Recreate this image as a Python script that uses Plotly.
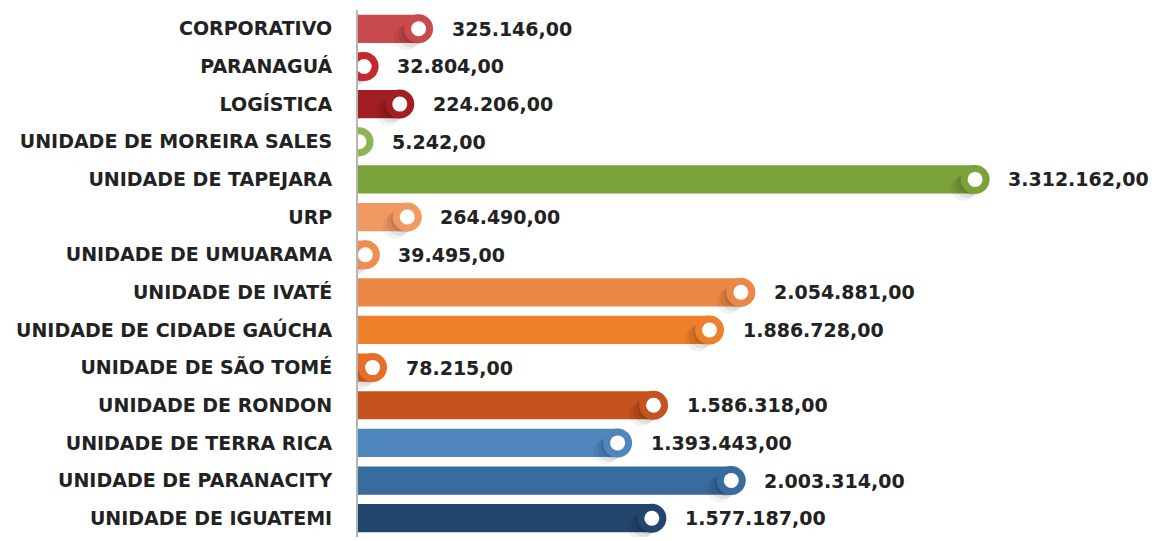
import plotly.graph_objects as go

categories = [
    "CORPORATIVO", "PARANAGUÁ", "LOGÍSTICA", "UNIDADE DE MOREIRA SALES",
    "UNIDADE DE TAPEJARA", "URP", "UNIDADE DE UMUARAMA", "UNIDADE DE IVATÉ",
    "UNIDADE DE CIDADE GAÚCHA", "UNIDADE DE SÃO TOMÉ", "UNIDADE DE RONDON",
    "UNIDADE DE TERRA RICA", "UNIDADE DE PARANACITY", "UNIDADE DE IGUATEMI",
]
values = [325146, 32804, 224206, 5242, 3312162, 264490, 39495, 2054881,
          1886728, 78215, 1586318, 1393443, 2003314, 1577187]
colors = ["#c94a4c", "#c6272d", "#a11e22", "#8db552", "#7ba23b", "#f09a62",
          "#ef8d4f", "#ec8847", "#ee7f2b", "#e86e28", "#c6521e", "#4f86bd",
          "#376c9d", "#23466d"]


def fmt_br(v):
    s = f"{v:,.2f}"
    return s.replace(",", "X").replace(".", ",").replace("X", ".")


labels = [fmt_br(v) for v in values]
n = len(categories)
pos = list(range(n))
XMAX = 4310000
PX = XMAX / 803  # data units per pixel
ROW = 37.6       # pixels per row

fig = go.Figure()
fig.add_trace(go.Bar(
    y=pos, x=values, orientation="h", width=0.75,
    marker=dict(color=colors, line=dict(width=0)),
    hoverinfo="skip", showlegend=False,
))
# long soft shadow down-left of the caps
for dx, dy, op in [(12, 9, 0.05), (8, 6, 0.07), (4, 3, 0.09)]:
    fig.add_trace(go.Scatter(
        y=[p + dy / ROW for p in pos], x=[v - dx * PX for v in values],
        mode="markers",
        marker=dict(color=f"rgba(0,0,0,{op})", size=25, line=dict(width=0)),
        hoverinfo="skip", showlegend=False, cliponaxis=True,
    ))
# rounded caps
fig.add_trace(go.Scatter(
    y=pos, x=values, mode="markers",
    marker=dict(color=colors, size=29, line=dict(width=0)),
    hoverinfo="skip", showlegend=False, cliponaxis=True,
))
# white dots
fig.add_trace(go.Scatter(
    y=pos, x=values, mode="markers",
    marker=dict(color="white", size=15, line=dict(width=0)),
    hoverinfo="skip", showlegend=False, cliponaxis=True,
))

for p, v, t in zip(pos, values, labels):
    fig.add_annotation(
        x=v, y=p, xref="x", yref="y", text=t, showarrow=False,
        xanchor="left", xshift=31,
        font=dict(family="DejaVu Sans", size=19, color="#222222", weight=700),
    )

fig.update_layout(
    width=1153, height=533,
    margin=dict(l=350, r=0, t=2, b=4, autoexpand=False),
    plot_bgcolor="white", paper_bgcolor="white",
    xaxis=dict(range=[0, XMAX], showgrid=False, zeroline=False,
               showticklabels=False, showline=False, fixedrange=True,
               automargin=False),
    yaxis=dict(range=[n - 0.5, -0.5], showgrid=False, zeroline=False,
               tickmode="array", tickvals=pos, ticktext=categories,
               showline=True, linecolor="#b5b5b5", linewidth=2,
               ticks="", ticklabelstandoff=20, automargin=False,
               tickfont=dict(family="DejaVu Sans", size=19, color="#222222",
                             weight=700)),
)

fig.write_html("out.html")
